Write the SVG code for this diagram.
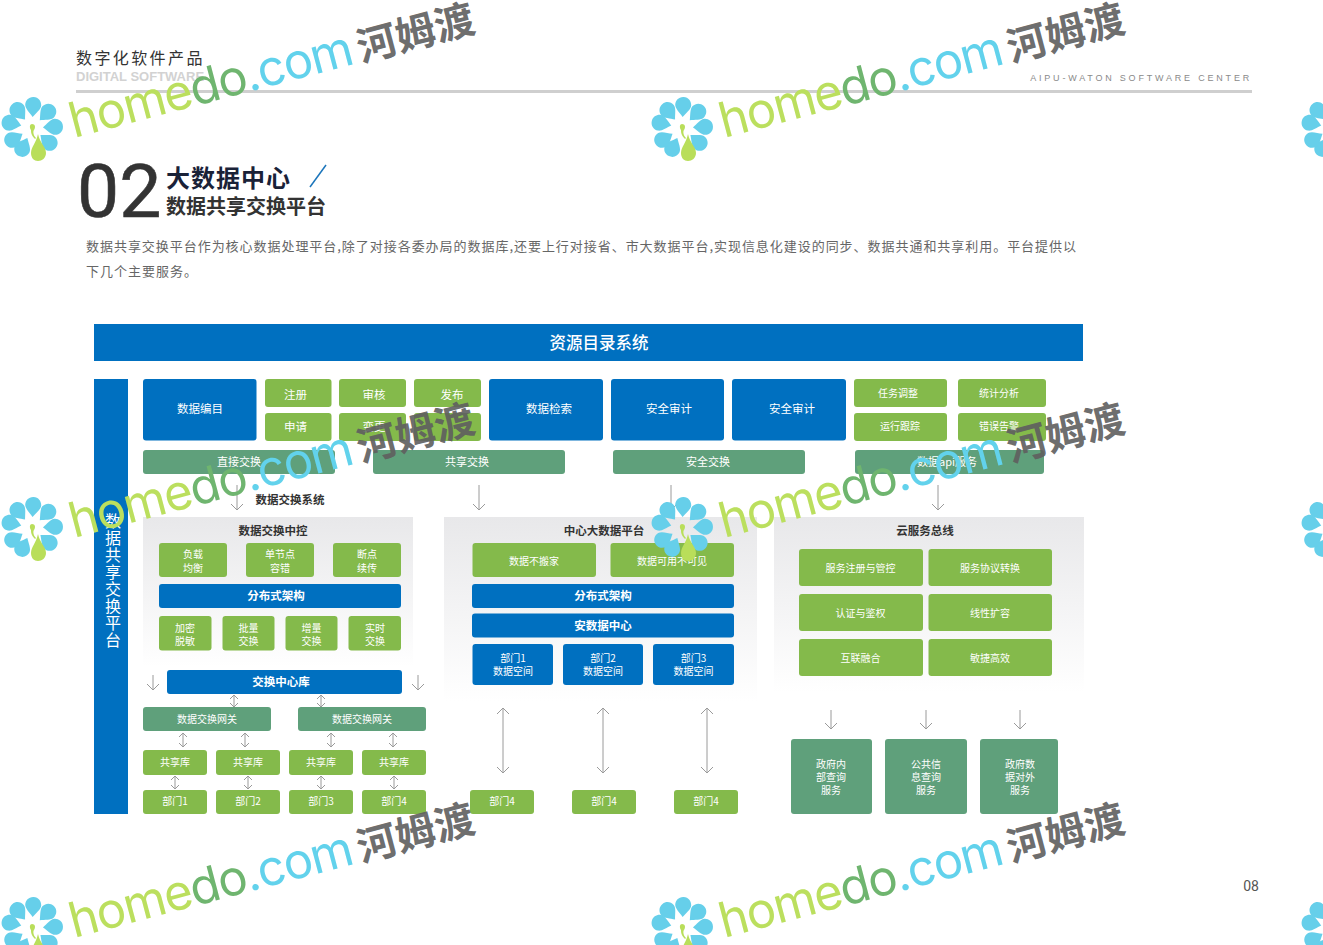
<svg xmlns="http://www.w3.org/2000/svg" width="1323" height="945" viewBox="0 0 1323 945">
<style>
text{font-family:"Liberation Sans","Noto Sans CJK SC",sans-serif}
.cjk{font-family:"Noto Sans CJK SC","Noto Sans",sans-serif}
.b{fill:#0070c0}.g{fill:#84ba4b}.d{fill:#5fa07b}
.w{fill:#fff;font-size:10px;text-anchor:middle;font-family:"Noto Sans CJK SC",sans-serif}
.wb{fill:#fff;font-size:11.5px;font-weight:700;text-anchor:middle;font-family:"Noto Sans CJK SC",sans-serif}
.w11{fill:#fff;font-size:11.5px;text-anchor:middle;font-family:"Noto Sans CJK SC",sans-serif}
.h{fill:#333;font-size:11.5px;font-weight:700;text-anchor:middle;font-family:"Noto Sans CJK SC",sans-serif}
.c path{fill:none;stroke:#9a9a9a;stroke-width:1}
</style>
<defs>
<linearGradient id="panel" x1="0" y1="0" x2="0" y2="1"><stop offset="0" stop-color="#e8e8ea"/><stop offset="1" stop-color="#fff"/></linearGradient>
<path id="pt" d="M0 -31C5 -31 8 -27 8 -23C8 -19 3 -15 0 -11C-3 -15 -8 -19 -8 -23C-8 -27 -5 -31 0 -31Z"/>
<g id="wm">
<g fill="#66cfea">
<use href="#pt" transform="translate(32 128) rotate(3)"/>
<use href="#pt" transform="translate(32 128) rotate(45)"/>
<use href="#pt" transform="translate(32 128) rotate(87)"/>
<use href="#pt" transform="translate(32 128) rotate(130)"/>
<use href="#pt" transform="translate(32 128) rotate(205)"/>
<use href="#pt" transform="translate(32 128) rotate(239)"/>
<use href="#pt" transform="translate(32 128) rotate(283)"/>
<use href="#pt" transform="translate(32 128) rotate(321)"/>
</g>
<path d="M38 134C40 143 46 147 46 153C46 158 42 161 38 161C34 161 31 158 31 153C31 147 36 143 38 134Z" fill="#b9de5a"/>
<path d="M32 124C35 124 36 127 34 130C33 131 33 135 36 138L35 139C31 135 31 132 31 130C29 127 30 124 32 124Z" fill="#b9de5a"/>
<g transform="translate(74 138) rotate(-14.800)">
<text font-size="49" textLength="292" lengthAdjust="spacing" style="font-family:Inter,sans-serif"><tspan fill="#bbdf5e">home</tspan><tspan fill="#6fb56f">do</tspan><tspan fill="#62d2ec">.com</tspan></text>
<text x="297" font-size="40" font-weight="700" fill="#5f5f5f" fill-opacity=".92" class="cjk">河姆渡</text>
</g>
</g>
</defs>
<rect width="1323" height="945" fill="#fff"/>

<g id="header">
<text x="76" y="64" class="cjk" font-size="16" letter-spacing="2.400" fill="#333">数字化软件产品</text>
<text x="76" y="81" font-size="13" font-weight="700" fill="#d2d2d2">DIGITAL SOFTWARE</text>
<rect x="76" y="90" width="1176" height="3" fill="#cfcfcf"/>
<text x="1252" y="81" text-anchor="end" font-size="9" letter-spacing="2.800" fill="#8a8a8a">AIPU-WATON SOFTWARE CENTER</text>
<text x="77" y="217" style="font-family:Roboto,sans-serif;font-weight:400" font-size="75" fill="#333" stroke="#333" stroke-width=".6">02</text>
<text x="166" y="187" class="cjk" font-size="24" font-weight="700" letter-spacing="1" fill="#1a2238">大数据中心</text>
<path d="M310 187L326 165" fill="none" stroke="#1b75bb" stroke-width="1.500"/>
<text x="166" y="214" class="cjk" font-size="20" font-weight="700" fill="#333">数据共享交换平台</text>
<text x="86" y="251" class="cjk" font-size="13" fill="#666" textLength="990" lengthAdjust="spacing">数据共享交换平台作为核心数据处理平台,除了对接各委办局的数据库,还要上行对接省、市大数据平台,实现信息化建设的同步、数据共通和共享利用。平台提供以</text>
<text x="86" y="276" class="cjk" font-size="13" letter-spacing="1" fill="#666">下几个主要服务。</text>
<text x="1251" y="891" text-anchor="middle" style="font-family:Roboto,sans-serif" font-size="14" fill="#555">08</text>
</g>

<g id="panels">
<rect x="143" y="517" width="270" height="150" fill="url(#panel)"/>
<rect x="444" y="517" width="313" height="185" fill="url(#panel)"/>
<rect x="774" y="517" width="310" height="175" fill="url(#panel)"/>
<text x="290" y="504" class="h">数据交换系统</text>
<text x="273" y="535" class="h">数据交换中控</text>
<text x="604" y="535" class="h">中心大数据平台</text>
<text x="925" y="535" class="h">云服务总线</text>
</g>

<g id="connectors" class="c">
<path d="M237 485V510M231 504L237 510L243 504"/>
<path d="M479 485V510M473 504L479 510L485 504"/>
<path d="M671 485V510M665 504L671 510L677 504"/>
<path d="M938 485V510M932 504L938 510L944 504"/>
<path d="M153 675V690M147 684L153 690L159 684"/>
<path d="M418 675V690M412 684L418 690L424 684"/>
<path d="M831 710V729M825 723L831 729L837 723"/>
<path d="M926 710V729M920 723L926 729L932 723"/>
<path d="M1020 710V729M1014 723L1020 729L1026 723"/>
<path d="M503 708V773M497 714L503 708L509 714M497 767L503 773L509 767"/>
<path d="M603 708V773M597 714L603 708L609 714M597 767L603 773L609 767"/>
<path d="M707 708V773M701 714L707 708L713 714M701 767L707 773L713 767"/>
<path d="M234 695V707M230 699L234 695L238 699M230 703L234 707L238 703"/>
<path d="M321 695V707M317 699L321 695L325 699M317 703L321 707L325 703"/>
<path d="M183 733V747M179 737L183 733L187 737M179 743L183 747L187 743"/>
<path d="M245 733V747M241 737L245 733L249 737M241 743L245 747L249 743"/>
<path d="M331 733V747M327 737L331 733L335 737M327 743L331 747L335 743"/>
<path d="M393 733V747M389 737L393 733L397 737M389 743L393 747L397 743"/>
<path d="M175 776V789M171 780L175 776L179 780M171 785L175 789L179 785"/>
<path d="M248 776V789M244 780L248 776L252 780M244 785L248 789L252 785"/>
<path d="M321 776V789M317 780L321 776L325 780M317 785L321 789L325 785"/>
<path d="M394 776V789M390 780L394 776L398 780M390 785L394 789L398 785"/>
</g>

<g id="node-top"><rect class="b" x="94" y="324" width="989" height="37"/><text x="599" y="349" fill="#fff" text-anchor="middle" class="cjk" font-size="16.500" font-weight="500">资源目录系统</text></g>
<g id="node-side"><rect class="b" x="94" y="379" width="34" height="435"/>
<text x="113" y="513" fill="#fff" class="cjk" font-size="16" letter-spacing="1" style="writing-mode:vertical-rl">数据共享交换平台</text></g>

<g id="node-catalog"><rect class="b" x="143" y="379" width="113.500" height="61.500" rx="3"/><text class="w11" x="200" y="413">数据编目</text></g>
<g id="node-search"><rect class="b" x="489" y="379" width="114" height="61.500" rx="3"/><text class="w11" x="549" y="413">数据检索</text></g>
<g id="node-audit1"><rect class="b" x="611" y="379" width="113" height="61.500" rx="3"/><text class="w11" x="669" y="413">安全审计</text></g>
<g id="node-audit2"><rect class="b" x="732" y="379" width="114" height="61.500" rx="3"/><text class="w11" x="792" y="413">安全审计</text></g>

<g id="node-reg"><rect class="g" x="265" y="379" width="66.500" height="28" rx="3"/><text class="w11" x="295.500" y="399">注册</text></g>
<g id="node-apply"><rect class="g" x="265" y="413" width="66.500" height="28" rx="3"/><text class="w11" x="295.500" y="431">申请</text></g>
<g id="node-review"><rect class="g" x="339" y="379" width="67" height="28" rx="3"/><text class="w11" x="374" y="399">审核</text></g>
<g id="node-change"><rect class="g" x="339" y="413" width="67" height="28" rx="3"/><text class="w11" x="374" y="431">变更</text></g>
<g id="node-publish"><rect class="g" x="414" y="379" width="67" height="28" rx="3"/><text class="w11" x="452" y="399">发布</text></g>
<g id="node-blank"><rect class="g" x="414" y="413" width="67" height="28" rx="3"/></g>
<g id="node-task"><rect class="g" x="854" y="379" width="93" height="28" rx="3"/><text class="w" x="898" y="397">任务调整</text></g>
<g id="node-track"><rect class="g" x="854" y="413" width="93" height="28" rx="3"/><text class="w" x="900" y="430">运行跟踪</text></g>
<g id="node-stat"><rect class="g" x="958" y="379" width="88" height="28" rx="3"/><text class="w" x="999" y="397">统计分析</text></g>
<g id="node-error"><rect class="g" x="958" y="413" width="88" height="28" rx="3"/><text class="w" x="999" y="430">错误告警</text></g>

<g id="node-direct"><rect class="d" x="143" y="450" width="192" height="24" rx="3"/><text class="w" x="239" y="466" style="font-size:11px">直接交换</text></g>
<g id="node-share"><rect class="d" x="373" y="450" width="192" height="24" rx="3"/><text class="w" x="467" y="466" style="font-size:11px">共享交换</text></g>
<g id="node-safe"><rect class="d" x="613" y="450" width="192" height="24" rx="3"/><text class="w" x="708" y="466" style="font-size:11px">安全交换</text></g>
<g id="node-api"><rect class="d" x="855" y="450" width="189" height="24" rx="3"/><text class="w" x="947" y="466" style="font-size:11px">数据api服务</text></g>

<g id="node-l1"><rect class="g" x="159" y="543" width="68" height="34" rx="3"/><text class="w" x="193" y="558">负载</text><text class="w" x="193" y="572">均衡</text></g>
<g id="node-l2"><rect class="g" x="246" y="543" width="68" height="34" rx="3"/><text class="w" x="280" y="558">单节点</text><text class="w" x="280" y="572">容错</text></g>
<g id="node-l3"><rect class="g" x="333" y="543" width="68" height="34" rx="3"/><text class="w" x="367" y="558">断点</text><text class="w" x="367" y="572">续传</text></g>
<g id="node-l4"><rect class="b" x="159" y="584" width="242" height="24" rx="3"/><text class="wb" x="276" y="600">分布式架构</text></g>
<g id="node-l5"><rect class="g" x="159" y="616" width="52.500" height="34.500" rx="3"/><text class="w" x="185" y="632">加密</text><text class="w" x="185" y="645">脱敏</text></g>
<g id="node-l6"><rect class="g" x="222.500" y="616" width="52" height="34.500" rx="3"/><text class="w" x="248.500" y="632">批量</text><text class="w" x="248.500" y="645">交换</text></g>
<g id="node-l7"><rect class="g" x="285.500" y="616" width="52" height="34.500" rx="3"/><text class="w" x="311.500" y="632">增量</text><text class="w" x="311.500" y="645">交换</text></g>
<g id="node-l8"><rect class="g" x="348.500" y="616" width="52.500" height="34.500" rx="3"/><text class="w" x="375" y="632">实时</text><text class="w" x="375" y="645">交换</text></g>
<g id="node-hub"><rect class="b" x="167" y="670" width="235" height="24" rx="3"/><text class="wb" x="281" y="686">交换中心库</text></g>
<g id="node-gw1"><rect class="d" x="143" y="707" width="128" height="24" rx="3"/><text class="w" x="207" y="723">数据交换网关</text></g>
<g id="node-gw2"><rect class="d" x="298" y="707" width="128" height="24" rx="3"/><text class="w" x="362" y="723">数据交换网关</text></g>
<g id="node-s1"><rect class="g" x="143" y="750" width="64" height="25" rx="3"/><text class="w" x="175" y="766">共享库</text></g>
<g id="node-s2"><rect class="g" x="216" y="750" width="64" height="25" rx="3"/><text class="w" x="248" y="766">共享库</text></g>
<g id="node-s3"><rect class="g" x="289" y="750" width="64" height="25" rx="3"/><text class="w" x="321" y="766">共享库</text></g>
<g id="node-s4"><rect class="g" x="362" y="750" width="64" height="25" rx="3"/><text class="w" x="394" y="766">共享库</text></g>
<g id="node-d1"><rect class="g" x="143" y="790" width="64" height="24" rx="3"/><text class="w" x="175" y="805">部门1</text></g>
<g id="node-d2"><rect class="g" x="216" y="790" width="64" height="24" rx="3"/><text class="w" x="248" y="805">部门2</text></g>
<g id="node-d3"><rect class="g" x="289" y="790" width="64" height="24" rx="3"/><text class="w" x="321" y="805">部门3</text></g>
<g id="node-d4"><rect class="g" x="362" y="790" width="64" height="24" rx="3"/><text class="w" x="394" y="805">部门4</text></g>

<g id="node-c1"><rect class="g" x="472.500" y="543" width="123.500" height="34" rx="3"/><text class="w" x="534" y="565">数据不搬家</text></g>
<g id="node-c2"><rect class="g" x="610.500" y="543" width="123.500" height="34" rx="3"/><text class="w" x="672" y="565">数据可用不可见</text></g>
<g id="node-c3"><rect class="b" x="472" y="584" width="262" height="24" rx="3"/><text class="wb" x="603" y="600">分布式架构</text></g>
<g id="node-c4"><rect class="b" x="472" y="613.500" width="262" height="24" rx="3"/><text class="wb" x="603" y="629.500">安数据中心</text></g>
<g id="node-c5"><rect class="b" x="472.500" y="644" width="80.500" height="41" rx="3"/><text class="w" x="513" y="662">部门1</text><text class="w" x="513" y="675">数据空间</text></g>
<g id="node-c6"><rect class="b" x="563" y="644" width="80" height="41" rx="3"/><text class="w" x="603" y="662">部门2</text><text class="w" x="603" y="675">数据空间</text></g>
<g id="node-c7"><rect class="b" x="653" y="644" width="81" height="41" rx="3"/><text class="w" x="693.500" y="662">部门3</text><text class="w" x="693.500" y="675">数据空间</text></g>
<g id="node-c8"><rect class="g" x="470" y="790" width="64" height="24" rx="3"/><text class="w" x="502" y="805">部门4</text></g>
<g id="node-c9"><rect class="g" x="572" y="790" width="64" height="24" rx="3"/><text class="w" x="604" y="805">部门4</text></g>
<g id="node-c10"><rect class="g" x="674" y="790" width="64" height="24" rx="3"/><text class="w" x="706" y="805">部门4</text></g>

<g id="node-r1"><rect class="g" x="799" y="549" width="124" height="37" rx="3"/><text class="w" x="860.500" y="572">服务注册与管控</text></g>
<g id="node-r2"><rect class="g" x="928.500" y="549" width="123.500" height="37" rx="3"/><text class="w" x="990" y="572">服务协议转换</text></g>
<g id="node-r3"><rect class="g" x="799" y="594" width="124" height="37" rx="3"/><text class="w" x="860.500" y="617">认证与鉴权</text></g>
<g id="node-r4"><rect class="g" x="928.500" y="594" width="123.500" height="37" rx="3"/><text class="w" x="990" y="617">线性扩容</text></g>
<g id="node-r5"><rect class="g" x="799" y="639" width="124" height="37" rx="3"/><text class="w" x="860.500" y="662">互联融合</text></g>
<g id="node-r6"><rect class="g" x="928.500" y="639" width="123.500" height="37" rx="3"/><text class="w" x="990" y="662">敏捷高效</text></g>
<g id="node-g1"><rect class="d" x="791" y="739" width="81" height="75" rx="3"/><text class="w" x="831" y="768">政府内</text><text class="w" x="831" y="781">部查询</text><text class="w" x="831" y="794">服务</text></g>
<g id="node-g2"><rect class="d" x="885" y="739" width="82" height="75" rx="3"/><text class="w" x="926" y="768">公共信</text><text class="w" x="926" y="781">息查询</text><text class="w" x="926" y="794">服务</text></g>
<g id="node-g3"><rect class="d" x="980" y="739" width="78" height="75" rx="3"/><text class="w" x="1020" y="768">政府数</text><text class="w" x="1020" y="781">据对外</text><text class="w" x="1020" y="794">服务</text></g>

<g id="watermarks">
<use href="#wm"/><use href="#wm" x="650"/><use href="#wm" x="1300"/>
<use href="#wm" y="400"/><use href="#wm" x="650" y="400"/><use href="#wm" x="1300" y="400"/>
<use href="#wm" y="800"/><use href="#wm" x="650" y="800"/><use href="#wm" x="1300" y="800"/>
</g>
</svg>
